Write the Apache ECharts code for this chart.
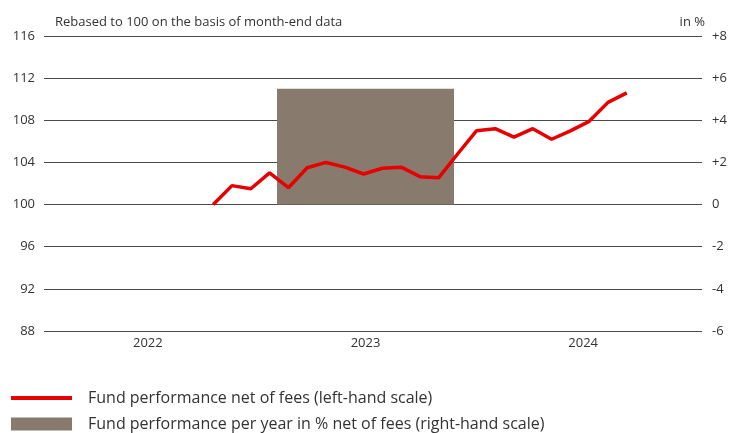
<!DOCTYPE html>
<html>
<head>
<meta charset="utf-8">
<script src="https://cdn.jsdelivr.net/npm/echarts@6/dist/echarts.min.js"></script>
<style>
  html, body { margin: 0; padding: 0; background: #fff; }
  #chart { width: 731px; height: 433px; }
</style>
</head>
<body>
<div id="chart"></div>
<script>
// year buckets for the annual bar + x labels
const years = ["2022", "2023", "2024"]
const annualPerf = [null, 5.5, null] // % p.a., right-hand scale

// month-end NAV, rebased to 100 (left-hand scale), Oct 2022 .. Aug 2024
const navMonths = [
  "2022-10", "2022-11", "2022-12", "2023-01", "2023-02", "2023-03", "2023-04", "2023-05",
  "2023-06", "2023-07", "2023-08", "2023-09", "2023-10", "2023-11", "2023-12", "2024-01",
  "2024-02", "2024-03", "2024-04", "2024-05", "2024-06", "2024-07", "2024-08",
]
const navValues = [
  100.0, 101.8, 101.5, 103.0, 101.6, 103.5, 104.0, 103.55,
  102.9, 103.45, 103.55, 102.65, 102.55, 104.8, 107.0, 107.2,
  106.4, 107.2, 106.2, 107.0, 107.9, 109.7, 110.6,
]

const leftTicks = { min: 88, max: 116, interval: 4 }
const rightTicks = { min: -6, max: 8, interval: 2 }

const LINE_NAME = "Fund performance net of fees (left-hand scale)"
const BAR_NAME = "Fund performance per year in % net of fees (right-hand scale)"

// full monthly axis Jan 2022 .. Dec 2024
const allMonths = []
for (let y = 2022; y <= 2024; y++) {
  for (let m = 1; m <= 12; m++) allMonths.push(y + "-" + String(m).padStart(2, "0"))
}

const FONT = "Open Sans"
const TEXT = "#333"

const chart = echarts.init(document.getElementById("chart"), null, { renderer: "canvas" })

chart.setOption({
  animation: false,
  textStyle: { fontFamily: FONT, color: TEXT },
  title: [
    {
      text: "Rebased to 100 on the basis of month-end data",
      left: 55, top: 16, padding: 0,
      textStyle: { fontFamily: FONT, fontSize: 13, fontWeight: "normal", color: TEXT },
    },
    {
      text: "in %",
      right: 26, top: 16, padding: 0,
      textStyle: { fontFamily: FONT, fontSize: 13, fontWeight: "normal", color: TEXT },
    },
  ],
  legend: [
    {
      data: [LINE_NAME],
      left: 11, top: 390, padding: 0,
      icon: "rect", itemWidth: 61, itemHeight: 4,
      textStyle: { fontFamily: FONT, fontSize: 16, color: TEXT, padding: [0, 0, 0, 11] },
      selectedMode: false,
    },
    {
      data: [BAR_NAME],
      left: 11, top: 416, padding: 0,
      icon: "rect", itemWidth: 61, itemHeight: 13,
      textStyle: { fontFamily: FONT, fontSize: 16, color: TEXT, padding: [0, 0, 0, 11] },
      selectedMode: false,
    },
  ],
  grid: [
    { left: 44, width: 658, top: 36, height: 295 },
    { left: 39, width: 653, top: 36, height: 295 },
  ],
  xAxis: [
    { type: "category", gridIndex: 0, data: allMonths, boundaryGap: false, show: false },
    {
      type: "category", gridIndex: 1, data: years,
      axisLine: { show: false }, axisTick: { show: false },
      axisLabel: { margin: 6, fontSize: 13, color: TEXT, fontFamily: FONT },
    },
  ],
  yAxis: [
    {
      type: "value", gridIndex: 0, position: "left", ...leftTicks,
      axisLine: { show: false }, axisTick: { show: false },
      axisLabel: { margin: 9, fontSize: 13, color: TEXT, fontFamily: FONT },
      splitLine: { lineStyle: { color: "#4a4a4a", width: 1.2 } },
    },
    {
      type: "value", gridIndex: 0, position: "right", ...rightTicks,
      axisLine: { show: false }, axisTick: { show: false },
      axisLabel: {
        margin: 10, fontSize: 13, color: TEXT, fontFamily: FONT,
        formatter: (v) => (v > 0 ? "+" + v : String(v)),
      },
      splitLine: { show: false },
    },
    { type: "value", gridIndex: 1, ...rightTicks, show: false, splitLine: { show: false } },
  ],
  series: [
    {
      name: BAR_NAME,
      type: "bar",
      xAxisIndex: 1, yAxisIndex: 2,
      data: annualPerf,
      barWidth: 177,
      itemStyle: { color: "#887b6e" },
      z: 2,
    },
    {
      name: LINE_NAME,
      type: "line",
      xAxisIndex: 0, yAxisIndex: 0,
      data: navMonths.map((m, i) => [m, navValues[i]]),
      symbol: "none",
      color: "#e60000",
      lineStyle: { color: "#e60000", width: 3.5 },
      itemStyle: { color: "#e60000" },
      z: 3,
    },
  ],
})
</script>
</body>
</html>
